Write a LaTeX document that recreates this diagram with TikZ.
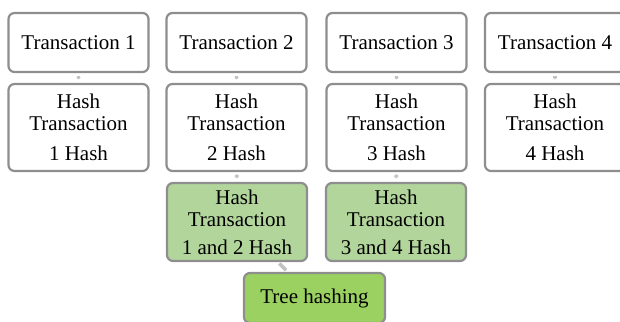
\documentclass[tikz,border=0pt]{standalone}
\usepackage{fontspec}
\setmainfont{Liberation Serif}
\usetikzlibrary{arrows.meta}
\definecolor{bordergray}{HTML}{8E8E8E}
\definecolor{linkgray}{HTML}{C2C2C2}
\definecolor{lightgreen}{HTML}{B2D59C}
\definecolor{treegreen}{HTML}{9BD160}
\begin{document}
\begin{tikzpicture}[x=1bp,y=-1bp,
  box/.style={draw=bordergray, line width=2.2bp, rounded corners=6bp, fill=white,
    minimum width=140bp, inner sep=0pt, align=center,
    font=\fontsize{21bp}{22bp}\selectfont},
  toprow/.style={box, minimum height=59bp},
  hashrow/.style={box, minimum height=87bp},
  pairrow/.style={box, minimum height=78bp, fill=lightgreen},
  rootbox/.style={box, minimum height=50bp, minimum width=141bp, fill=treegreen},
  link/.style={draw=linkgray, line width=3.5bp, -{Triangle[length=2bp,width=4.5bp]}, shorten <=2.5bp, shorten >=3.5bp},
  diaglink/.style={draw=linkgray, line width=3.5bp, shorten <=2bp, shorten >=2.5bp}
]
\useasboundingbox (0,0) rectangle (620,321);
\node[toprow] (t1) at (78.5,42.5) {Transaction 1};
\node[toprow] (t2) at (236.5,42.5) {Transaction 2};
\node[toprow] (t3) at (396.5,42.5) {Transaction 3};
\node[toprow] (t4) at (555,42.5) {Transaction 4};
\node[hashrow] (h1) at (78.5,127.5) {Hash\\Transaction\\[8bp]1 Hash};
\node[hashrow] (h2) at (236.5,127.5) {Hash\\Transaction\\[8bp]2 Hash};
\node[hashrow] (h3) at (396.5,127.5) {Hash\\Transaction\\[8bp]3 Hash};
\node[hashrow] (h4) at (555,127.5) {Hash\\Transaction\\[8bp]4 Hash};
\node[pairrow] (g1) at (237,222) {Hash\\Transaction\\[6bp]1 and 2 Hash};
\node[pairrow] (g2) at (396,222) {Hash\\Transaction\\[6bp]3 and 4 Hash};
\node[rootbox] (root) at (314.5,298) {Tree hashing};
\path[link] (t1) -- (h1);
\path[link] (t2) -- (h2);
\path[link] (t3) -- (h3);
\path[link] (t4) -- (h4);
\path[link] (h2) -- (g1);
\path[link] (h3) -- (g2);
\path[diaglink] (g1) -- (root);
\end{tikzpicture}
\end{document}
